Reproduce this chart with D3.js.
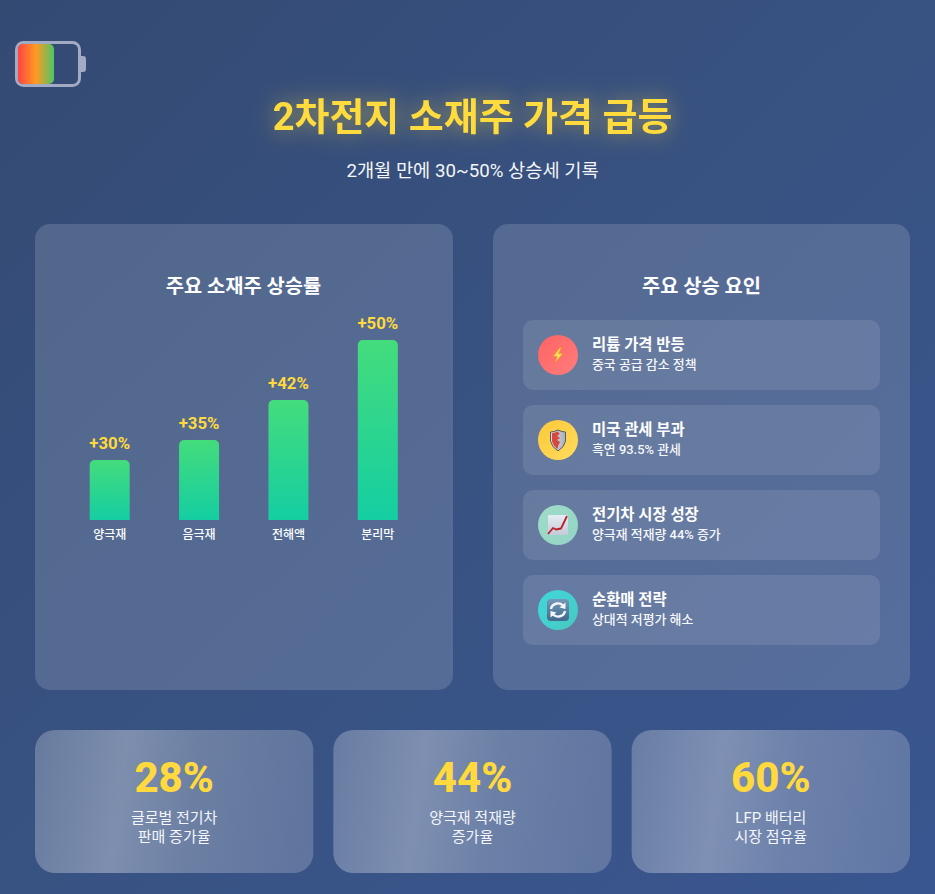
<!DOCTYPE html>
<html lang="ko"><head><meta charset="utf-8">
<script src="https://cdn.jsdelivr.net/npm/d3@7/dist/d3.min.js"></script>
<style>html,body{margin:0;padding:0;background:#3a5488;overflow:hidden}svg{display:block}
text{font-family:Roboto,"Noto Sans CJK KR",sans-serif}</style></head><body><div id="c"></div>
<script>
const categories=["양극재","음극재","전해액","분리막"];
const gains=[30,35,42,50];
const factorTitles=["리튬 가격 반등","미국 관세 부과","전기차 시장 성장","순환매 전략"];
const factorNotes=["중국 공급 감소 정책","흑연 93.5% 관세","양극재 적재량 44% 증가","상대적 저평가 해소"];
const statValues=["28%","44%","60%"];
const statLine1=["글로벌 전기차","양극재 적재량","LFP 배터리"];
const statLine2=["판매 증가율","증가율","시장 점유율"];

const W=935,H=894;
const svg=d3.select("#c").append("svg").attr("width",W).attr("height",H);
const defs=svg.append("defs");
function grad(id,x1,y1,x2,y2,stops){const g=defs.append("linearGradient").attr("id",id).attr("x1",x1).attr("y1",y1).attr("x2",x2).attr("y2",y2);
 stops.forEach(s=>g.append("stop").attr("offset",s[0]).attr("stop-color",s[1]).attr("stop-opacity",s[2]===undefined?1:s[2]));}
grad("bg",0,0,1,1,[[0,"#344a73"],[0.5,"#385282"],[1,"#3a5690"]]);
grad("batt",0,0,1,0,[[0,"#ff4444"],[0.5,"#ff9a22"],[1,"#4cc764"]]);
grad("bar",0,0,0,1,[[0,"#44dc7c"],[1,"#14cea2"]]);
grad("shine",0,0.05,1,0.12,[[0,"#ffffff",0.24],[0.33,"#ffffff",0.35],[0.6,"#ffffff",0.26],[1,"#ffffff",0.2]]);
grad("ic0",0,0,1,1,[[0,"#ff6363"],[1,"#ff7c7c"]]);
grad("ic1",0,0,1,1,[[0,"#fcc838"],[1,"#ffdc5e"]]);
grad("ic2",0,0,1,1,[[0,"#a0dcc8"],[1,"#92d4c6"]]);
grad("ic3",0,0,1,1,[[0,"#40d8dc"],[1,"#48c8c0"]]);
grad("shield",0,0,1,0,[[0,"#d9dce2"],[1,"#aab0bb"]]);
grad("page",0,0,0,1,[[0,"#e6ecf4"],[1,"#c3cbd9"]]);
grad("tile",0,0,0,1,[[0,"#7498b8"],[1,"#3f6a8c"]]);
const glow=defs.append("filter").attr("id","glow").attr("x","-20%").attr("y","-80%").attr("width","140%").attr("height","260%");
glow.append("feDropShadow").attr("dx",0).attr("dy",0).attr("stdDeviation",11).attr("flood-color","#ffd93d").attr("flood-opacity",0.55);

svg.append("rect").attr("width",W).attr("height",H).attr("fill","url(#bg)");

// battery icon
const batt=svg.append("g");
batt.append("rect").attr("x",16.5).attr("y",42.5).attr("width",63).attr("height",43).attr("rx",7).attr("fill","none").attr("stroke","#a2abc3").attr("stroke-width",3);
batt.append("rect").attr("x",18).attr("y",44).attr("width",36).attr("height",40).attr("rx",5).attr("fill","url(#batt)");
batt.append("path").attr("d","M80 56h3q3 0 3 3v10q0 3-3 3h-3z").attr("fill","#a2abc3");

// header
svg.append("text").attr("x",472.5).attr("y",130).attr("text-anchor","middle").attr("font-size",38).attr("font-weight",700).attr("fill","#ffdb3d").attr("filter","url(#glow)").text("2차전지 소재주 가격 급등");
svg.append("text").attr("x",472.5).attr("y",177).attr("text-anchor","middle").attr("font-size",18.7).attr("fill","#f4f6fa").text("2개월 만에 30~50% 상승세 기록");

// panels
[[35,418],[493,417]].forEach(p=>svg.append("rect").attr("x",p[0]).attr("y",224).attr("width",p[1]).attr("height",466).attr("rx",15).attr("fill","#fff").attr("fill-opacity",0.15));
svg.append("text").attr("x",243.5).attr("y",293).attr("text-anchor","middle").attr("font-size",19.8).attr("font-weight",700).attr("fill","#fff").text("주요 소재주 상승률");
svg.append("text").attr("x",701.5).attr("y",293).attr("text-anchor","middle").attr("font-size",19.8).attr("font-weight",700).attr("fill","#fff").text("주요 상승 요인");

// bars
const x=d3.scaleBand().domain(categories).range([65,422.5]);
const barW=40, base=520;
// the source's bars are not proportional to their labels: piecewise scale from gain to drawn height
const h=d3.scaleLinear().domain([30,35,42,50]).range([60,80,120,180]);
const bars=svg.append("g");
categories.forEach((c,i)=>{
  const cx=x(c)+x.bandwidth()/2, l=cx-barW/2, t=base-h(gains[i]), r=5;
  const p=d3.path();p.moveTo(l,base);p.lineTo(l,t+r);p.arcTo(l,t,l+r,t,r);p.lineTo(l+barW-r,t);p.arcTo(l+barW,t,l+barW,t+r,r);p.lineTo(l+barW,base);p.closePath();
  bars.append("path").attr("d",p.toString()).attr("fill","url(#bar)");
  bars.append("text").attr("x",cx).attr("y",t-11).attr("text-anchor","middle").attr("font-size",16.8).attr("font-weight",700).attr("fill","#ffd93d").text("+"+gains[i]+"%");
});
const ax=svg.append("g").attr("transform",`translate(0,${base})`).call(d3.axisBottom(x).tickSize(0).tickPadding(10));
ax.select(".domain").remove();
ax.selectAll("text").attr("font-size",12).attr("font-weight",500).attr("fill","#fff").style("font-family",'Roboto,"Noto Sans CJK KR",sans-serif');

// factors
const y=d3.scaleBand().domain(factorTitles).range([320,660]);
factorTitles.forEach((t,i)=>{
  const top=y(t);
  const g=svg.append("g").attr("transform",`translate(523,${top})`);
  g.append("rect").attr("width",357).attr("height",70).attr("rx",10).attr("fill","#fff").attr("fill-opacity",0.1);
  const ic=g.append("g").attr("transform","translate(35,35)");
  ic.append("circle").attr("r",20).attr("fill",`url(#ic${i})`);
  drawIcon(ic,i);
  g.append("text").attr("x",69).attr("y",30).attr("font-size",15.4).attr("font-weight",700).attr("fill","#fff").text(t);
  g.append("text").attr("x",69).attr("y",49).attr("font-size",12.9).attr("font-weight",500).attr("fill","#f6f7fa").text(factorNotes[i]);
});
function drawIcon(g,i){
  if(i===0){
    g.append("path").attr("d","M2 -7.5 L-5 1.5 L-1 1.5 L-3 8 L5 -1.5 L0.8 -1.5 L3.5 -7.5 Z").attr("fill","#ffdc60").attr("stroke","#f09020").attr("stroke-width",0.8).attr("stroke-linejoin","round");
  } else if(i===1){
    g.append("path").attr("d","M-7.5 -8 Q-4 -8 0 -10 Q4 -8 7.5 -8 L7.5 1 Q6.5 7 0 11 Q-6.5 7 -7.5 1 Z").attr("fill","url(#shield)").attr("stroke","#5c5a5c").attr("stroke-width",1);
    g.append("path").attr("d","M-6 -6.8 Q-3 -7 0 -8.4 L1.6 -6 L-1 -4 L2 -2 L-1 0 L2 2 L0 6 L0 9 Q-5 6 -6 1 Z").attr("fill","#d8483e");
  } else if(i===2){
    g.append("rect").attr("x",-10).attr("y",-10).attr("width",20).attr("height",20).attr("rx",1).attr("fill","url(#page)");
    g.append("path").attr("d","M-10 9 L-5 3 L-2 4.5 L3 3.5 L9 -9").attr("fill","none").attr("stroke","#bb2028").attr("stroke-width",1.8).attr("stroke-linejoin","round");
  } else {
    g.append("rect").attr("x",-11).attr("y",-11).attr("width",22).attr("height",22).attr("rx",4).attr("fill","url(#tile)");
    g.append("path").attr("d","M-7 -1 A7 6.5 0 0 1 5 -4.5").attr("fill","none").attr("stroke","#f4f6f8").attr("stroke-width",2.4);
    g.append("path").attr("d","M7.5 -7.5 L7.5 -1 L1.5 -2.5 Z").attr("fill","#f4f6f8");
    g.append("path").attr("d","M7 1 A7 6.5 0 0 1 -5 4.5").attr("fill","none").attr("stroke","#f4f6f8").attr("stroke-width",2.4);
    g.append("path").attr("d","M-7.5 7.5 L-7.5 1 L-1.5 2.5 Z").attr("fill","#f4f6f8");
  }
}

// stat cards
const cardW=278.33, gap=20;
statValues.forEach((v,i)=>{
  const l=35+i*(cardW+gap), cx=l+cardW/2;
  svg.append("rect").attr("x",l).attr("y",730).attr("width",cardW).attr("height",143).attr("rx",20).attr("fill","url(#shine)");
  svg.append("text").attr("x",cx).attr("y",792).attr("text-anchor","middle").attr("font-size",42).attr("font-weight",800).attr("fill","#ffd93d").text(v);
  svg.append("text").attr("x",cx).attr("y",823).attr("text-anchor","middle").attr("font-size",15).attr("fill","#f4f6fa").text(statLine1[i]);
  svg.append("text").attr("x",cx).attr("y",842).attr("text-anchor","middle").attr("font-size",15).attr("fill","#f4f6fa").text(statLine2[i]);
});
</script></body></html>
